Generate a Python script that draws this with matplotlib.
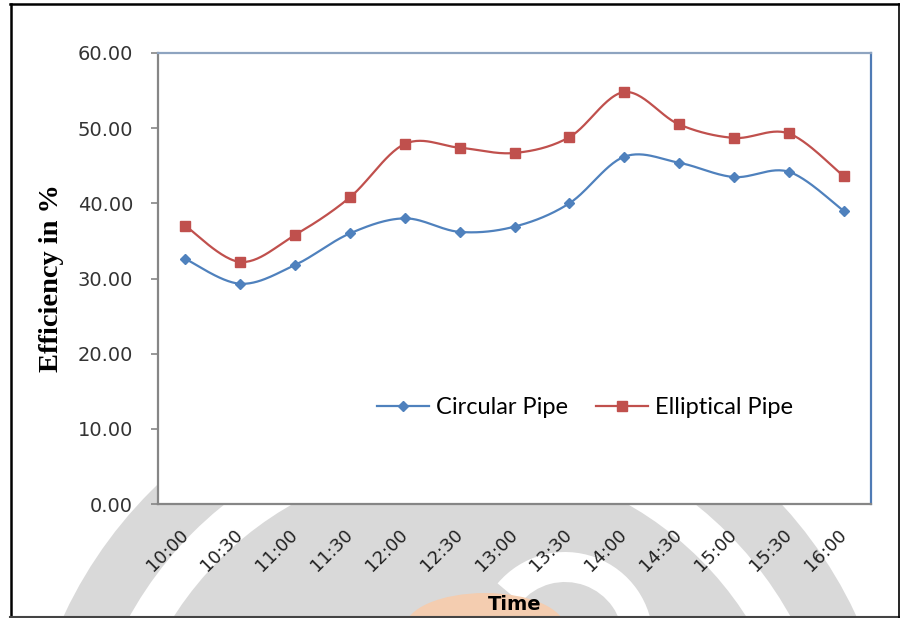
import numpy as np
import matplotlib
matplotlib.use("Agg")
from matplotlib import pyplot as plt
from matplotlib.patches import Circle, Wedge, Ellipse

times = ["10:00", "10:30", "11:00", "11:30", "12:00", "12:30", "13:00",
         "13:30", "14:00", "14:30", "15:00", "15:30", "16:00"]
circular = [32.6, 29.3, 31.8, 36.0, 38.0, 36.2, 36.9, 40.0, 46.2, 45.4, 43.5, 44.2, 39.0]
elliptical = [37.0, 32.2, 35.8, 40.8, 47.9, 47.4, 46.7, 48.8, 54.8, 50.5, 48.7, 49.3, 43.6]
yticks = [0, 10, 20, 30, 40, 50, 60]

blue = "#4F81BD"
red = "#C0504D"


def smooth(xs, ys, n=30):
    # excel-style bezier smoothing between the points
    p = np.column_stack([xs, ys]).astype(float)
    ext = np.vstack([p[0], p, p[-1]])
    out = []
    for i in range(len(p) - 1):
        p0, p1 = ext[i + 1], ext[i + 2]
        c1 = p0 + (ext[i + 2] - ext[i]) / 6.0
        c2 = p1 - (ext[i + 3] - ext[i + 1]) / 6.0
        t = np.linspace(0, 1, n)[:, None]
        seg = ((1 - t) ** 3 * p0 + 3 * (1 - t) ** 2 * t * c1
               + 3 * (1 - t) * t ** 2 * c2 + t ** 3 * p1)
        out.append(seg if i == 0 else seg[1:])
    out = np.vstack(out)
    return out[:, 0], out[:, 1]


fig = plt.figure(figsize=(9, 6.18), dpi=100)

# background: frame + faint watermark behind the axis labels
bg = fig.add_axes([0, 0, 1, 1], zorder=-1)
bg.set_xlim(0, 900)
bg.set_ylim(0, 618)
bg.axis("off")
gray = "#d9d9d9"
bg.add_patch(Circle((460, 618 - 800), 437, color=gray, lw=0))
bg.add_patch(Wedge((460, 618 - 800), 378, 0, 360, width=38, color="white", lw=0))
bg.add_patch(Wedge((565, 618 - 640), 88, 0, 140, width=30, color="white", lw=0))
bg.add_patch(Ellipse((485, 618 - 628), 160, 70, color="#f4cdb0", lw=0))
bg.plot([10.5, 10.5], [0, 614], color="black", lw=1.8)
bg.plot([10, 900], [614, 614], color="black", lw=1.8)
bg.plot([10, 900], [1, 1], color="#444444", lw=1.5)
bg.plot([898.5, 898.5], [0, 614], color="black", lw=1.2)

ax = fig.add_axes([158 / 900, 1 - 504 / 618, 713 / 900, 451 / 618])
ax.set_facecolor("white")

x = np.arange(len(times))
for vals, col, mk, ms, lab in [(circular, blue, "D", 5, "Circular Pipe"),
                               (elliptical, red, "s", 6.5, "Elliptical Pipe")]:
    sx, sy = smooth(x, vals)
    ax.plot(sx, sy, color=col, lw=1.6, zorder=2)
    ax.plot(x, vals, ls="none", marker=mk, ms=ms, color=col, zorder=3)
    ax.plot([], [], color=col, lw=1.6, marker=mk, ms=ms, label=lab)

ax.set_xlim(-0.5, len(times) - 0.5)
ax.set_ylim(0, 60)
ax.set_yticks(yticks)
ax.set_yticklabels(["%.2f" % v for v in yticks], fontsize=14, color="#333333",
                   family="DejaVu Sans")
ax.set_xticks(x)
ax.set_xticklabels(times, rotation=45, ha="right", va="center",
                   rotation_mode="anchor", fontsize=13, color="#222222",
                   family="DejaVu Sans")
ax.tick_params(axis="x", length=0, pad=20)
ax.tick_params(axis="y", length=5, color="#868686", width=1.2, pad=13)

ax.spines["left"].set_color("#868686")
ax.spines["bottom"].set_color("#868686")
ax.spines["top"].set_color("#8EA4C0")
ax.spines["right"].set_color("#4F7BB5")
for s in ax.spines.values():
    s.set_linewidth(1.6)

ax.set_ylabel("Efficiency in %", family="Liberation Serif", fontweight="bold",
              fontsize=20.5, labelpad=10)
ax.set_xlabel("Time", family="DejaVu Sans", fontweight="bold", fontsize=14)
ax.xaxis.set_label_coords(0.5, -0.202)

leg = ax.legend(loc="center", bbox_to_anchor=(0.599, 0.213), ncol=2,
                frameon=False, handlelength=2.2,
                columnspacing=1.2, handletextpad=0.3,
                prop={"family": "Lato", "size": 17})

fig.savefig("out.png", dpi=100)
